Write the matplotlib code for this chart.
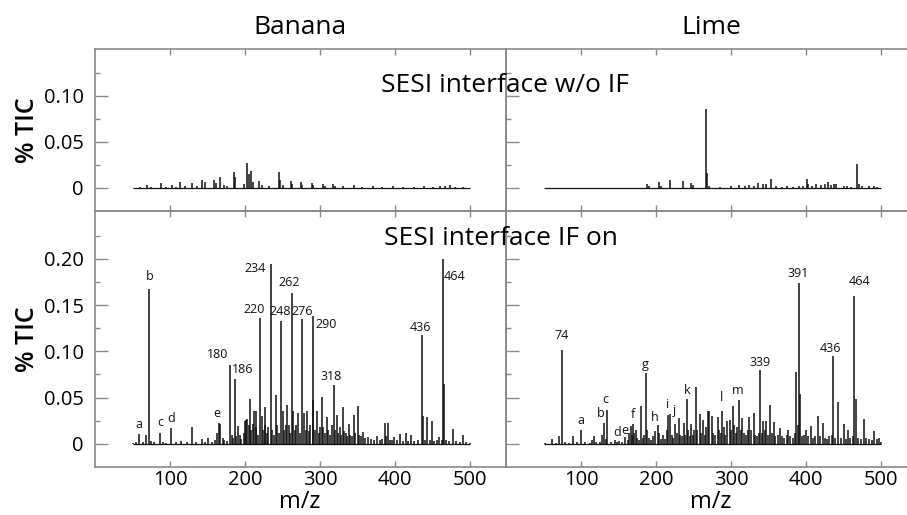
import matplotlib
matplotlib.use('Agg')
import matplotlib.pyplot as plt
from matplotlib.ticker import FixedLocator

plt.rcParams['font.family'] = ['Open Sans', 'DejaVu Sans']

# ---------------- data ----------------
column_titles = ['Banana', 'Lime']
row_titles = ['SESI interface w/o IF', 'SESI interface IF on']
x_ticks = [100, 200, 300, 400, 500]
top_yticks = [0, 0.05, 0.10]
top_ylabels = ['0', '0.05', '0.10']
top_yminor = [0.025, 0.075, 0.125]
bot_yticks = [0, 0.05, 0.10, 0.15, 0.20]
bot_ylabels = ['0', '0.05', '0.10', '0.15', '0.20']
bot_yminor = [0.025, 0.075, 0.125, 0.175, 0.225]
mz_range = [50, 500]

# Banana, SESI w/o IF
banana_off_mz = [60, 69, 75, 88, 95, 102, 108, 113, 120, 129, 136, 143, 146, 158, 161, 167, 172, 176,
                 185, 187, 198, 203, 205, 208, 211, 219, 222, 232, 245, 247, 250, 261, 263, 274, 276,
                 289, 291, 304, 306, 317, 320, 331, 345, 356, 370, 383, 397, 410, 425, 438, 450, 460,
                 467, 473, 480, 490]
banana_off_h = [0.001, 0.003, 0.001, 0.005, 0.001, 0.003, 0.001, 0.006, 0.002, 0.005, 0.002, 0.009, 0.006,
                0.009, 0.005, 0.012, 0.003, 0.002, 0.017, 0.012, 0.004, 0.027, 0.015, 0.018, 0.006, 0.008,
                0.003, 0.002, 0.017, 0.009, 0.003, 0.008, 0.004, 0.006, 0.003, 0.005, 0.003, 0.004, 0.002,
                0.004, 0.002, 0.002, 0.003, 0.001, 0.002, 0.001, 0.002, 0.001, 0.001, 0.002, 0.001, 0.002,
                0.002, 0.003, 0.001, 0.001]

# Lime, SESI w/o IF
lime_off_mz = [75, 130, 188, 190, 204, 206, 219, 236, 247, 249, 267, 268, 270, 285, 300, 311, 318, 324,
               330, 336, 342, 346, 353, 360, 368, 375, 382, 390, 396, 401, 403, 408, 413, 420, 425, 429,
               433, 437, 440, 450, 455, 460, 468, 470, 475, 484, 490, 495]
lime_off_h = [0.0005, 0.0005, 0.004, 0.002, 0.007, 0.002, 0.009, 0.0075, 0.005, 0.003, 0.0855, 0.016,
              0.002, 0.001, 0.002, 0.003, 0.002, 0.003, 0.002, 0.005, 0.004, 0.004, 0.010, 0.002, 0.001,
              0.002, 0.001, 0.002, 0.002, 0.010, 0.004, 0.002, 0.004, 0.003, 0.004, 0.0065, 0.003, 0.004,
              0.004, 0.002, 0.002, 0.001, 0.026, 0.004, 0.002, 0.002, 0.002, 0.001]

# Banana, SESI IF on
banana_on_mz = [50, 55, 58, 64, 68, 72, 75, 79, 87, 91, 95, 101, 108, 115, 122, 129, 135, 142, 147, 151,
                156, 160, 163, 165, 167, 170, 172, 176, 180, 182, 184, 186, 188, 190, 193, 195, 198, 200,
                201, 203, 205, 206, 208, 210, 212, 214, 215, 217, 220, 222, 224, 226, 227, 229, 231, 234,
                236, 238, 241, 243, 245, 248, 250, 252, 254, 256, 258, 260, 262, 264, 266, 268, 271, 273,
                276, 279, 281, 283, 285, 287, 290, 291, 293, 296, 298, 300, 302, 304, 306, 309, 311, 313,
                316, 318, 320, 322, 324, 326, 328, 330, 332, 334, 336, 338, 340, 342, 345, 347, 350, 352,
                354, 357, 360, 364, 368, 372, 376, 380, 383, 386, 388, 390, 393, 396, 399, 403, 407, 410,
                414, 417, 421, 425, 430, 436, 437, 440, 443, 446, 449, 452, 456, 459, 462, 464, 465, 468,
                472, 477, 481, 486, 491, 495, 500]
banana_on_h = [0.001, 0.002, 0.011, 0.002, 0.010, 0.167, 0.003, 0.002, 0.012, 0.002, 0.001, 0.017, 0.002,
               0.003, 0.002, 0.018, 0.002, 0.005, 0.002, 0.006, 0.002, 0.004, 0.012, 0.023, 0.022, 0.006,
               0.004, 0.003, 0.085, 0.010, 0.006, 0.070, 0.008, 0.019, 0.010, 0.005, 0.012, 0.025, 0.026,
               0.027, 0.020, 0.049, 0.015, 0.022, 0.036, 0.018, 0.035, 0.010, 0.136, 0.030, 0.015, 0.020,
               0.040, 0.012, 0.018, 0.194, 0.015, 0.010, 0.053, 0.020, 0.012, 0.133, 0.036, 0.015, 0.020,
               0.042, 0.020, 0.012, 0.163, 0.036, 0.015, 0.020, 0.033, 0.012, 0.135, 0.033, 0.015, 0.036,
               0.014, 0.020, 0.138, 0.047, 0.015, 0.035, 0.012, 0.018, 0.051, 0.018, 0.012, 0.029, 0.015,
               0.010, 0.020, 0.064, 0.015, 0.031, 0.012, 0.018, 0.010, 0.040, 0.014, 0.012, 0.008, 0.022,
               0.010, 0.008, 0.031, 0.012, 0.041, 0.010, 0.008, 0.013, 0.006, 0.007, 0.005, 0.004, 0.008,
               0.004, 0.005, 0.023, 0.008, 0.023, 0.004, 0.004, 0.007, 0.004, 0.011, 0.003, 0.012, 0.003,
               0.010, 0.003, 0.004, 0.118, 0.030, 0.004, 0.029, 0.004, 0.025, 0.003, 0.004, 0.007, 0.004,
               0.200, 0.065, 0.004, 0.003, 0.016, 0.003, 0.002, 0.010, 0.002, 0.001]

# Lime, SESI IF on
lime_on_mz = [52, 61, 66, 70, 74, 78, 84, 89, 94, 100, 105, 112, 115, 117, 120, 125, 128, 130, 133, 135,
              140, 145, 148, 151, 155, 158, 162, 164, 166, 168, 169, 171, 173, 175, 177, 180, 182, 184,
              186, 188, 190, 193, 196, 199, 202, 204, 206, 209, 212, 214, 216, 219, 221, 223, 225, 228,
              230, 232, 234, 237, 239, 241, 243, 245, 247, 249, 251, 253, 255, 258, 260, 263, 265, 267,
              269, 271, 274, 276, 279, 282, 284, 286, 288, 290, 292, 295, 298, 300, 302, 304, 306, 308,
              310, 313, 315, 317, 320, 322, 324, 327, 330, 332, 335, 337, 339, 341, 343, 345, 347, 349,
              352, 354, 357, 359, 362, 365, 368, 371, 374, 376, 379, 382, 385, 387, 389, 391, 392, 394,
              397, 400, 403, 406, 409, 412, 416, 418, 422, 425, 428, 431, 434, 436, 438, 443, 446, 450,
              453, 456, 459, 462, 464, 466, 469, 473, 477, 480, 484, 488, 491, 494, 497, 500]
lime_on_h = [0.001, 0.005, 0.001, 0.008, 0.1015, 0.002, 0.001, 0.009, 0.002, 0.015, 0.002, 0.001, 0.004,
             0.008, 0.002, 0.002, 0.010, 0.023, 0.005, 0.037, 0.002, 0.004, 0.002, 0.003, 0.002, 0.007,
             0.004, 0.012, 0.019, 0.010, 0.021, 0.012, 0.015, 0.006, 0.004, 0.041, 0.006, 0.010, 0.077,
             0.015, 0.006, 0.004, 0.008, 0.014, 0.020, 0.012, 0.005, 0.010, 0.005, 0.015, 0.031, 0.032,
             0.010, 0.006, 0.021, 0.012, 0.028, 0.010, 0.008, 0.023, 0.010, 0.049, 0.015, 0.008, 0.022,
             0.010, 0.015, 0.061, 0.015, 0.032, 0.012, 0.026, 0.010, 0.018, 0.036, 0.035, 0.030, 0.012,
             0.010, 0.029, 0.015, 0.012, 0.036, 0.018, 0.010, 0.025, 0.026, 0.015, 0.041, 0.020, 0.012,
             0.018, 0.047, 0.015, 0.028, 0.012, 0.010, 0.015, 0.029, 0.015, 0.033, 0.010, 0.008, 0.012,
             0.080, 0.012, 0.025, 0.015, 0.025, 0.010, 0.042, 0.012, 0.024, 0.008, 0.010, 0.017, 0.008,
             0.006, 0.010, 0.015, 0.008, 0.006, 0.012, 0.078, 0.020, 0.1735, 0.054, 0.008, 0.010, 0.015,
             0.008, 0.019, 0.006, 0.008, 0.030, 0.008, 0.023, 0.006, 0.005, 0.008, 0.010, 0.095, 0.006,
             0.045, 0.006, 0.021, 0.005, 0.015, 0.006, 0.008, 0.160, 0.048, 0.006, 0.005, 0.027, 0.006,
             0.005, 0.004, 0.014, 0.005, 0.006, 0.002]

# peak annotations (text, x in m/z, y in %TIC)
banana_labels = ['a', 'b', 'c', 'd', 'e', '180', '186', '220', '234', '248', '262', '276', '290',
                 '318', '436', '464']
banana_label_x = [59, 73, 87, 101, 163, 164, 197, 212, 214, 247, 259, 276, 308, 315, 434, 480]
banana_label_y = [0.021, 0.181, 0.023, 0.027, 0.033, 0.097, 0.080, 0.145, 0.189, 0.143, 0.174, 0.143,
                  0.129, 0.073, 0.126, 0.181]
lime_labels = ['74', 'a', 'b', 'c', 'd', 'e', 'f', 'g', 'h', 'i', 'j', 'k', 'l', 'm', '339', '391',
               '436', '464']
lime_label_x = [74, 100.5, 126, 132.5, 148.5, 158, 169, 186, 199, 215.7, 224.6, 241.4, 287.5, 309,
                338.4, 389.4, 432.8, 470.8]
lime_label_y = [0.1166, 0.0248, 0.0324, 0.0475, 0.0119, 0.0144, 0.032, 0.086, 0.029, 0.042, 0.036,
                0.058, 0.0497, 0.058, 0.0878, 0.184, 0.1026, 0.175]

# ---------------- figure ----------------
W, H = 907, 515
fig = plt.figure(figsize=(W / 100, H / 100), dpi=100)

spine_col = '#8a8a8a'
line_col = '#111111'

def px_rect(x0, y0, x1, y1):
    return [x0 / W, 1 - y1 / H, (x1 - x0) / W, (y1 - y0) / H]

ax_tl = fig.add_axes(px_rect(95, 49, 506, 211))
ax_tr = fig.add_axes(px_rect(506, 49, 917, 211))
ax_bl = fig.add_axes(px_rect(95, 211, 506, 467))
ax_br = fig.add_axes(px_rect(506, 211, 917, 467))

panels = [
    (ax_tl, banana_off_mz, banana_off_h, True, False),
    (ax_tr, lime_off_mz, lime_off_h, False, False),
    (ax_bl, banana_on_mz, banana_on_h, True, True),
    (ax_br, lime_on_mz, lime_on_h, False, True),
]

for ax, mz, h, left, bottom in panels:
    ax.set_facecolor('none')
    ax.hlines(0, mz_range[0], mz_range[1], color=line_col, lw=0.9)
    ax.vlines(mz, 0, h, color=line_col, lw=1.1)
    ax.set_xlim(0, 548)
    if bottom:
        ax.set_ylim(-0.025, 0.2516)
        ax.yaxis.set_major_locator(FixedLocator(bot_yticks))
        ax.yaxis.set_minor_locator(FixedLocator(bot_yminor))
        ylabels = bot_ylabels
    else:
        ax.set_ylim(-0.025, 0.151)
        ax.yaxis.set_major_locator(FixedLocator(top_yticks))
        ax.yaxis.set_minor_locator(FixedLocator(top_yminor))
        ylabels = top_ylabels
    ax.set_xticks(x_ticks)
    ax.set_xticklabels([str(t) for t in x_ticks], fontsize=14.5)
    if left:
        ax.set_yticklabels(ylabels, fontsize=14.5)
    ax.tick_params(axis='x', which='both', direction='in', top=True, bottom=True,
                   length=4, width=1.0, color=spine_col, pad=2, labelbottom=bottom)
    ax.tick_params(axis='y', which='major', direction='in', left=True, right=False,
                   length=9, width=1.0, color=spine_col, pad=8, labelleft=left)
    ax.tick_params(axis='y', which='minor', direction='in', left=True, right=False,
                   length=3.6, width=1.0, color=spine_col)
    for s in ax.spines.values():
        s.set_color(spine_col)
        s.set_linewidth(1.2)

for lab, x, y in zip(banana_labels, banana_label_x, banana_label_y):
    ax_bl.text(x, y, lab, fontsize=9, ha='center', va='center', color='#111111')
for lab, x, y in zip(lime_labels, lime_label_x, lime_label_y):
    ax_br.text(x, y, lab, fontsize=9, ha='center', va='center', color='#111111')

# titles and axis labels
fig.text(300 / W, 1 - 28 / H, column_titles[0], fontsize=19, ha='center', va='center')
fig.text(711 / W, 1 - 28 / H, column_titles[1], fontsize=19, ha='center', va='center')
fig.text(505 / W, 1 - 86 / H, row_titles[0], fontsize=19, ha='center', va='center')
fig.text(501 / W, 1 - 239 / H, row_titles[1], fontsize=19, ha='center', va='center')
fig.text(28 / W, 1 - 130 / H, '% TIC', fontsize=18, fontweight='semibold', rotation=90,
         ha='center', va='center')
fig.text(28 / W, 1 - 339 / H, '% TIC', fontsize=18, fontweight='semibold', rotation=90,
         ha='center', va='center')
fig.text(300 / W, 1 - 508 / H, 'm/z', fontsize=17, ha='center', va='baseline')
fig.text(711 / W, 1 - 508 / H, 'm/z', fontsize=17, ha='center', va='baseline')

fig.savefig('out.png', dpi=100)
